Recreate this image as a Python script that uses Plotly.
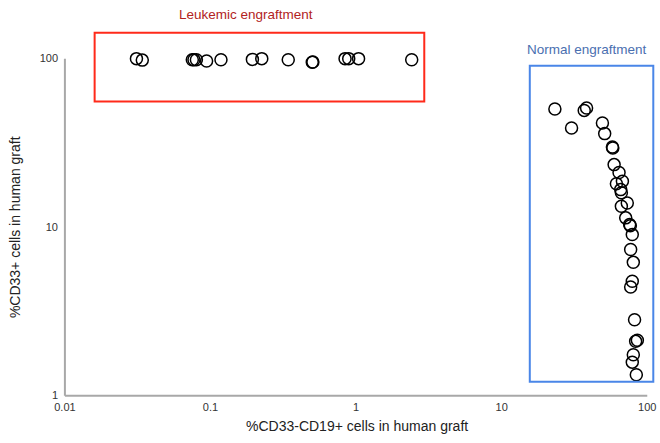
import plotly.graph_objects as go

# leukemic engraftment group (%CD33-CD19+ vs %CD33+)
leuk_x = [0.031, 0.034, 0.075, 0.077, 0.080, 0.094, 0.118, 0.194, 0.225, 0.342,
          0.50, 0.505, 0.84, 0.89, 1.04, 2.41]
leuk_y = [100, 98, 98.5, 98.5, 98.5, 96.8, 98.6, 99, 100, 98.6,
          95.1, 95.6, 100, 100, 100, 98.6]

# normal engraftment group
norm_x = [23.2, 30.2, 36.9, 38.3, 49.2, 51.0, 57.6, 58.0, 59.2, 64.0, 61.4, 67.5,
          65.7, 66.4, 72.9, 66.4, 71.1, 75.7, 76.5, 78.9, 76.9, 80.2, 78.9, 76.9,
          81.8, 85.5, 83.2, 80.2, 78.9, 84.1]
norm_y = [50.3, 38.8, 49.3, 51.0, 41.5, 35.9, 29.9, 29.5, 23.5, 21.1, 18.1, 18.7,
          16.7, 16.0, 13.9, 13.3, 11.35, 10.35, 10.2, 9.03, 7.36, 6.18, 4.77, 4.41,
          2.82, 2.13, 2.10, 1.75, 1.58, 1.33]

x_ticks = [0.01, 0.1, 1, 10, 100]
y_ticks = [1, 10, 100]

fig = go.Figure()
fig.add_trace(go.Scatter(
    x=leuk_x + norm_x, y=leuk_y + norm_y, mode='markers',
    marker=dict(symbol='circle-open', size=12, color='black', line=dict(width=1.5)),
    showlegend=False,
))

# axis lines only over the 0.01-100 / 1-100 span
axis_line = dict(color='#a8a8a8', width=2)
fig.add_shape(type='line', x0=0.01, x1=100, y0=1, y1=1, xref='x', yref='y',
              line=axis_line, layer='above')
fig.add_shape(type='line', x0=0.01, x1=0.01, y0=1, y1=100, xref='x', yref='y',
              line=axis_line, layer='above')

# boxes around the two groups
fig.add_shape(type='rect', x0=0.016, x1=2.94, y0=55.6, y1=142.6, xref='x', yref='y',
              line=dict(color='#ff2a1a', width=2))
fig.add_shape(type='rect', x0=15.6, x1=110, y0=1.21, y1=90.9, xref='x', yref='y',
              line=dict(color='#4a86e8', width=2))

txt = dict(xref='paper', yref='paper', xanchor='center', yanchor='middle', showarrow=False)
fig.add_annotation(text='Leukemic engraftment', x=0.31, y=1.041,
                   font=dict(family='Liberation Sans, Arial', size=13.5, color='#b22222'), **txt)
fig.add_annotation(text='Normal engraftment', x=0.884, y=0.946,
                   font=dict(family='Liberation Sans, Arial', size=13.5, color='#4a6fb0'), **txt)
fig.add_annotation(text='%CD33-CD19+ cells in human graft', x=0.497, y=-0.073,
                   font=dict(family='Liberation Sans, Arial', size=14, color='#222'), **txt)
fig.add_annotation(text='%CD33+ cells in human graft', x=-0.079, y=0.466, textangle=-90,
                   font=dict(family='Liberation Sans, Arial', size=14, color='#222'), **txt)

fig.update_xaxes(type='log', range=[-2.02, 2.06], tickvals=x_ticks,
                 ticktext=['0.01', '0.1', '1', '10', '100'],
                 showgrid=False, zeroline=False, showline=False, ticks='')
fig.update_yaxes(type='log', range=[-0.02, 2.17], tickvals=y_ticks,
                 ticktext=['1', '10', '100'], ticklabelstandoff=3,
                 showgrid=False, zeroline=False, showline=False, ticks='')

fig.update_layout(
    width=660, height=443,
    margin=dict(l=62, r=4, t=30, b=44),
    plot_bgcolor='white', paper_bgcolor='white',
    font=dict(family='Liberation Sans, Arial', size=11, color='#333'),
)

# drop the default 8px page margin so the figure fills the window
fig.write_html("out.html", config={'displayModeBar': False},
               post_script="document.body.style.margin='0';")
